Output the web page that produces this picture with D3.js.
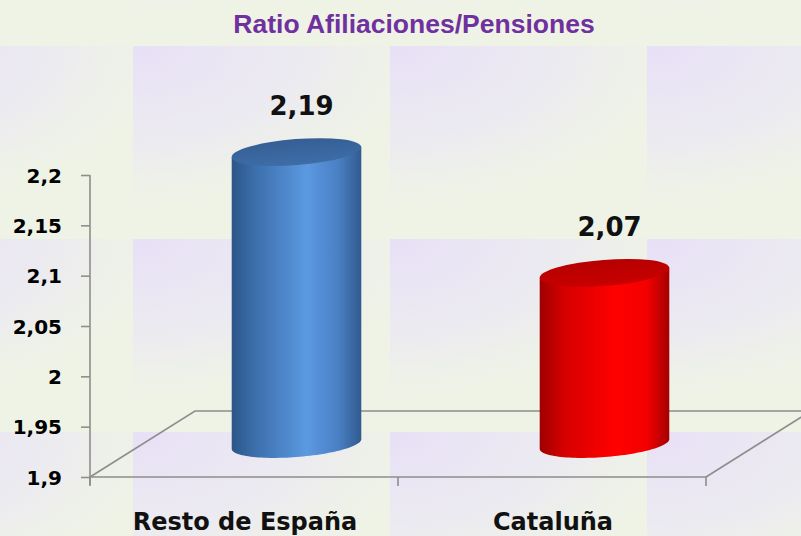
<!DOCTYPE html>
<html>
<head>
<meta charset="utf-8">
<script src="https://cdn.jsdelivr.net/npm/d3@7"></script>
<style>
  html, body { margin: 0; padding: 0; background: #eff2e6; }
  svg { display: block; }
</style>
</head>
<body>
<svg id="chart" width="801" height="536"></svg>
<script>
// ---- data ----
const title = "Ratio Afiliaciones/Pensiones";
const categories = ["Resto de España", "Cataluña"];
const values = [2.19, 2.07];
const valueLabels = ["2,19", "2,07"];
const tickValues = [1.9, 1.95, 2, 2.05, 2.1, 2.15, 2.2];
const tickLabels = ["1,9", "1,95", "2", "2,05", "2,1", "2,15", "2,2"];
const yDomain = [1.9, 2.2];

// ---- layout ----
const W = 801, H = 536;
const svg = d3.select("#chart");
const defs = svg.append("defs");

// background tiled gradient (lavender at the top-left of each tile, fading to pale green)
const tileW = 257, tileH = 193;
const bg = defs.append("radialGradient").attr("id", "tileGrad")
  .attr("gradientUnits", "userSpaceOnUse")
  .attr("cx", 0).attr("cy", 0).attr("fx", 0).attr("fy", 0).attr("r", tileH * 0.85)
  .attr("gradientTransform", "scale(1.8,1)");
bg.append("stop").attr("offset", 0).attr("stop-color", "#e8e0f7");
bg.append("stop").attr("offset", 0.6).attr("stop-color", "#ecebf0");
bg.append("stop").attr("offset", 0.85).attr("stop-color", "#eef1e8");
bg.append("stop").attr("offset", 1).attr("stop-color", "#eff3e5");
const pat = defs.append("pattern").attr("id", "tiles")
  .attr("patternUnits", "userSpaceOnUse")
  .attr("x", 133).attr("y", 46).attr("width", tileW).attr("height", tileH);
pat.append("rect").attr("width", tileW).attr("height", tileH).attr("fill", "url(#tileGrad)");
svg.append("rect").attr("width", W).attr("height", H).attr("fill", "url(#tiles)");

// scales
const x = d3.scaleBand().domain(categories).range([90, 706]).padding(0);
const y = d3.scaleLinear().domain(yDomain).range([477, 175]);
const depthX = 105, depthY = -66;
const axisColor = "#8d8d8d";

// title
svg.append("text").attr("x", 414).attr("y", 33)
  .attr("text-anchor", "middle")
  .attr("font-family", "'Liberation Sans', Arial, sans-serif")
  .attr("font-weight", "bold").attr("font-size", 26.5)
  .attr("fill", "#7030a0").text(title);

// floor (3D base)
const y0 = y(yDomain[0]);
const floor = svg.append("g").attr("fill", "none").attr("stroke", axisColor).attr("stroke-width", 1.6);
floor.append("path").attr("d", d3.line()([
  [x.range()[0], y0], [x.range()[0] + depthX, y0 + depthY],
  [x.range()[1] + depthX, y0 + depthY], [x.range()[1], y0]
]));

// y axis
const yAxis = d3.axisLeft(y).tickValues(tickValues)
  .tickFormat((d, i) => tickLabels[i]).tickSize(9).tickPadding(19);
const gy = svg.append("g").attr("transform", `translate(${x.range()[0]},0)`).call(yAxis);
gy.select(".domain").attr("stroke", axisColor).attr("stroke-width", 1.6)
  .attr("d", `M0,${y(yDomain[1])}V${y0 + 8}`);
gy.selectAll(".tick line").attr("stroke", axisColor).attr("stroke-width", 1.6);
gy.selectAll(".tick text")
  .attr("font-family", "'DejaVu Sans', Verdana, sans-serif")
  .attr("font-weight", "bold").attr("font-size", 20).attr("fill", "#000")
  .attr("dy", "0.36em");

// x axis
const gx = svg.append("g").attr("transform", `translate(0,${y0})`);
gx.append("line").attr("x1", x.range()[0]).attr("x2", x.range()[1])
  .attr("stroke", axisColor).attr("stroke-width", 1.6);
const bounds = [x.range()[0], x.range()[0] + x.step(), x.range()[1]];
gx.selectAll("line.tk").data(bounds).join("line").attr("class", "tk")
  .attr("x1", d => d).attr("x2", d => d).attr("y1", 0).attr("y2", 9)
  .attr("stroke", axisColor).attr("stroke-width", 1.6);
gx.selectAll("text").data(categories).join("text")
  .attr("x", d => x(d) + x.bandwidth() / 2 + 1).attr("y", 53)
  .attr("text-anchor", "middle")
  .attr("font-family", "'DejaVu Sans', Verdana, sans-serif")
  .attr("font-weight", "bold").attr("font-size", 24).attr("fill", "#111")
  .text(d => d);

// cylinders
const palettes = [
  { side: ["#2c5588", "#3c6fac", "#5b99e1", "#4a80c4", "#305b90"], top: "#3e6da7", topBack: "#355f95" },
  { side: ["#9e0000", "#d40000", "#ff0000", "#f50000", "#a50000"], top: "#c80000", topBack: "#b60000" }
];
palettes.forEach((p, i) => {
  const g = defs.append("linearGradient").attr("id", "side" + i)
    .attr("x1", 0).attr("x2", 1).attr("y1", 0).attr("y2", 0);
  [0, 0.18, 0.58, 0.82, 1].forEach((o, k) =>
    g.append("stop").attr("offset", o).attr("stop-color", p.side[k]));
  const t = defs.append("linearGradient").attr("id", "top" + i)
    .attr("x1", 0).attr("x2", 0).attr("y1", 0).attr("y2", 1);
  t.append("stop").attr("offset", 0).attr("stop-color", p.topBack);
  t.append("stop").attr("offset", 1).attr("stop-color", p.top);
});

const a = x.bandwidth() * 0.211;   // semi-major axis
const b = 13;                       // semi-minor axis
const theta = -4.5 * Math.PI / 180;
function ePt(cx, cy, t) {
  return [cx + a * Math.cos(t) * Math.cos(theta) - b * Math.sin(t) * Math.sin(theta),
          cy + a * Math.cos(t) * Math.sin(theta) + b * Math.sin(t) * Math.cos(theta)];
}
const tR = Math.atan2(-b * Math.sin(theta), a * Math.cos(theta));

const bars = svg.append("g");
categories.forEach((c, i) => {
  const cx = x(c) + x.bandwidth() / 2 + depthX / 2;
  const yb = y(yDomain[0]) + depthY / 2;
  const yt = y(values[i]) + depthY / 2;
  const topL = ePt(cx, yt, tR + Math.PI), topR = ePt(cx, yt, tR);
  const pts = [topL, topR];
  const n = 60;
  for (let k = 0; k <= n; k++) pts.push(ePt(cx, yb, tR + Math.PI * k / n));
  bars.append("path").attr("d", d3.line()(pts) + "Z").attr("fill", `url(#side${i})`);
  bars.append("ellipse").attr("cx", cx).attr("cy", yt).attr("rx", a).attr("ry", b)
    .attr("transform", `rotate(${theta * 180 / Math.PI},${cx},${yt})`)
    .attr("fill", `url(#top${i})`);
  bars.append("text").attr("x", cx + 5).attr("y", yt - 37)
    .attr("text-anchor", "middle")
    .attr("font-family", "'DejaVu Sans', Verdana, sans-serif")
    .attr("font-weight", "bold").attr("font-size", 26).attr("fill", "#111")
    .text(valueLabels[i]);
});
</script>
</body>
</html>
